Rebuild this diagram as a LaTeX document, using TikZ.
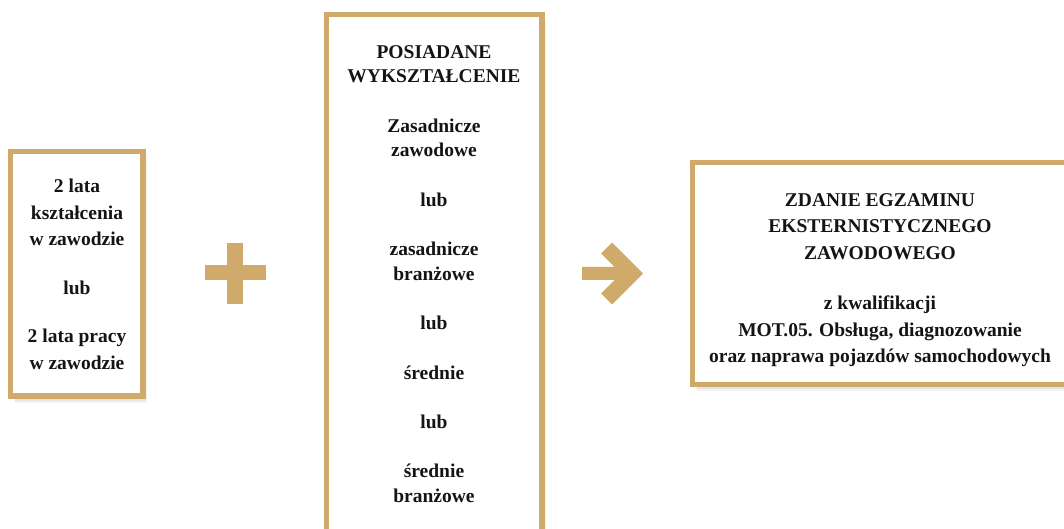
\documentclass[tikz,border=0pt]{standalone}
\usepackage{fontspec}
\setmainfont{Liberation Serif}
\usetikzlibrary{shadows}
\definecolor{gold}{RGB}{207,170,106}
\tikzset{
  goldbox/.style={draw=gold, line width=5.5pt, fill=white, inner sep=0pt, rectangle,
    drop shadow={opacity=0.05, shadow xshift=4pt, shadow yshift=-7pt, fill=black},
    drop shadow={opacity=0.05, shadow xshift=3pt, shadow yshift=-5pt, fill=black},
    drop shadow={opacity=0.06, shadow xshift=2pt, shadow yshift=-3pt, fill=black}},
  boxtext/.style={inner sep=0pt, align=center, font=\bfseries\fontsize{19.5}{26.5}\selectfont, text=black!92},
  goldshape/.style={fill=gold, draw=none}
}
\begin{document}
\begin{tikzpicture}[x=1pt,y=1pt]
\clip (0,0) rectangle (1064,529);
\fill[white] (0,0) rectangle (1064,529);
% boxes
\node[goldbox, minimum width=132.5pt, minimum height=244.5pt] (left) at (76.75,255.25) {};
\node[goldbox, minimum width=215.5pt, minimum height=585.5pt] (mid) at (434.25,221.75) {};
\node[goldbox, minimum width=417.5pt, minimum height=222pt] (right) at (901.25,255.5) {};
% texts
\node[boxtext] (lefttext) at (77,254.7) {2 lata\\kształcenia\\w zawodzie\\[22pt]lub\\[22pt]2 lata pracy\\w zawodzie};
\node[boxtext, font=\bfseries\fontsize{19.5}{24.7}\selectfont] (midtext) at (434,255) {POSIADANE\\WYKSZTAŁCENIE\\[24.7pt]Zasadnicze\\zawodowe\\[24.7pt]lub\\[24.7pt]zasadnicze\\branżowe\\[24.7pt]lub\\[24.7pt]średnie\\[24.7pt]lub\\[24.7pt]średnie\\branżowe};
\node[boxtext] (righttext) at (880,248.8) {ZDANIE EGZAMINU\\EKSTERNISTYCZNEGO\\ZAWODOWEGO\\[24pt]z kwalifikacji\\MOT.05. Obsługa, diagnozowanie\\oraz naprawa pojazdów samochodowych};
% plus sign
\fill[goldshape] (227,225) rectangle (243,286);
\fill[goldshape] (205,249) rectangle (266,264);
% arrow
\fill[goldshape] (582,262) -- (614.5,262) -- (601,275.5) -- (612,286.5) -- (643,255.5)
  -- (612,224.5) -- (601,235.5) -- (614.5,249) -- (582,249) -- cycle;
\end{tikzpicture}
\end{document}
